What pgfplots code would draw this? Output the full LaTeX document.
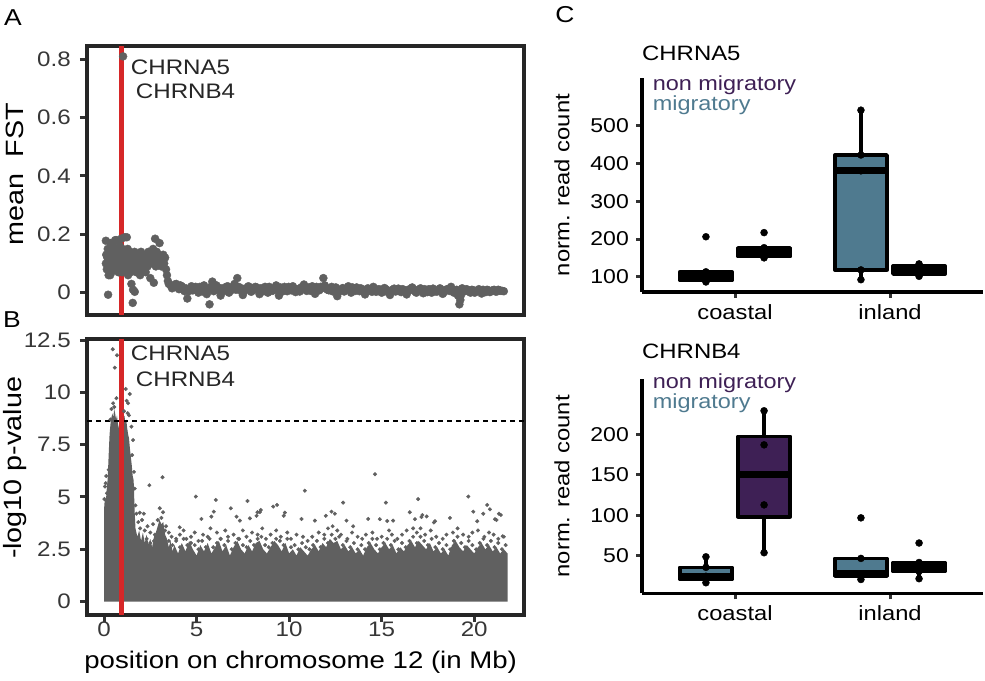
\documentclass[border=0pt]{standalone}
\usepackage{fontspec}
\setmainfont{Liberation Sans}[FakeStretch=1.15]
\usepackage{pgfplots}
\pgfplotsset{compat=1.18}
\usepgfplotslibrary{statistics}
\newcommand\fs[1]{\fontsize{#1pt}{#1pt}\selectfont}
\definecolor{ptgray}{RGB}{96,96,96}
\definecolor{framec}{RGB}{38,38,38}
\definecolor{tickc}{RGB}{51,51,51}
\definecolor{tlab}{RGB}{55,55,55}
\definecolor{redl}{RGB}{214,39,40}
\definecolor{purp}{RGB}{62,32,85}
\definecolor{tealc}{RGB}{79,122,143}
\pgfplotsset{
  manh/.style={
    scale only axis, width=437pt,
    xmin=-0.92, xmax=22.69,
    tick align=outside, major tick length=7pt, tick pos=left,
    every tick/.style={tickc, line width=3pt},
    axis line style={framec, line width=3.5pt},
    /pgf/number format/assume math mode=true,
    yticklabel style={font=\fs{21}, text=tlab, anchor=east, inner sep=0pt, xshift=-9pt},
    xticklabel style={font=\fs{21}, text=tlab, anchor=north, inner sep=0pt, yshift=0pt},
    ylabel style={font=\fs{25}, anchor=center},
    xlabel style={font=\fs{24}, anchor=center},
  },
  boxc/.style={
    scale only axis, width=341pt, height=214pt,
    xmin=0.4, xmax=2.6, clip=false,
    axis x line*=bottom, axis y line*=left,
    axis line style={black, line width=3.5pt, -},
    xtick={1,2}, xticklabels={coastal,inland},
    tick align=outside, major tick length=6pt,
    every tick/.style={tickc, line width=3pt},
    /pgf/number format/assume math mode=true,
    yticklabel style={font=\fs{20}, text=black, anchor=east, inner sep=0pt, xshift=-7pt},
    xticklabel style={font=\fs{20.6}, text=black, anchor=north, inner sep=0pt, yshift=-6pt},
    ylabel={norm. read count},
    ylabel style={font=\fs{20.7}, anchor=center, at={(axis description cs:-0.2346,0.5)}},
    boxplot/draw direction=y,
    boxplot/every median/.style={line width=7pt},
  },
  bx/.style={draw=black, line width=3.5pt, line join=round, fill=#1},
  dots/.style={only marks, mark=*, mark size=3.5pt, black, mark options={draw=black, fill=black}},
  fstpts/.style={only marks, mark=*, mark size=4pt, ptgray, mark options={draw=ptgray, fill=ptgray}},
}
\begin{document}
\begin{tikzpicture}[x=1pt,y=1pt]
\useasboundingbox (0,0) rectangle (985,680);
\node[font=\fs{23}] at (13,662) {A};
\node[font=\fs{23}] at (12,360) {B};
\node[font=\fs{23}] at (565,665) {C};

% ---------------- Panel A ----------------
\begin{axis}[manh, at={(87pt,365pt)}, anchor=south west, height=269pt,
  ymin=-0.0765, ymax=0.8456, xtick=\empty,
  ytick={0,0.2,0.4,0.6,0.8}, yticklabels={0,0.2,0.4,0.6,0.8},
  ylabel={mean\ \ FST}, ylabel style={at={(axis description cs:-0.165,0.524)}}]
\addplot[fstpts] table {
x y
0.10 0.178
0.10 0.10
0.12 0.13
0.15 0.08
0.18 0.12
0.20 0.15
0.22 -0.007
0.25 0.06
0.27 0.11
0.30 0.14
0.33 0.06
0.32 0.09
0.35 0.17
0.38 0.12
0.40 0.07
0.42 0.15
0.45 0.10
0.48 0.13
0.50 0.16
0.52 0.09
0.55 0.14
0.58 0.11
0.60 0.18
0.62 0.08
0.65 0.13
0.68 0.18
0.70 0.10
0.72 0.15
0.75 0.12
0.78 0.07
0.80 0.14
0.83 0.11
0.85 0.16
0.88 0.09
0.90 0.13
0.93 0.185
0.95 0.10
0.98 0.07
1.00 0.15
1.03 0.81
1.05 0.12
1.08 0.09
1.10 0.14
1.12 0.19
1.15 0.11
1.18 0.08
1.20 0.13
1.23 0.19
1.25 0.10
1.28 0.15
1.30 0.06
1.33 0.12
1.35 0.09
1.38 0.14
1.40 0.11
1.43 0.07
1.45 0.13
1.48 0.03
1.50 0.10
1.55 -0.035
1.57 0.01
1.58 0.12
1.60 0.08
1.66 0.003
1.65 0.14
1.70 0.11
1.75 0.07
1.80 0.13
1.85 0.09
1.90 0.12
1.95 0.06
2.00 0.14
2.05 0.10
2.10 0.08
2.15 0.13
2.20 0.11
2.25 0.07
2.30 0.12
2.35 0.09
2.40 0.14
2.45 0.11
2.50 0.05
2.55 0.13
2.60 0.10
2.65 0.15
2.69 0.034
2.70 0.12
2.76 0.185
2.80 0.09
2.85 0.14
2.90 0.11
2.95 0.13
3.00 0.17
3.05 0.12
3.10 0.09
3.15 0.11
3.20 0.13
3.25 0.10
3.30 0.12
3.35 0.08
3.40 0.06
3.45 0.04
3.50 0.03
3.60 0.025
3.75 0.02
3.90 0.03
4.05 0.012
4.20 0.022
4.35 0.005
4.50 -0.02
4.65 0.015
4.80 0.008
4.95 0.02
5.10 0.0
5.25 0.012
5.40 0.025
5.55 -0.005
5.70 -0.04
5.85 0.038
6.00 0.01
6.15 0.018
6.30 -0.01
6.45 0.005
6.60 0.02
6.75 0.0
6.90 0.012
7.05 0.03
7.20 0.05
7.35 0.008
7.50 -0.008
7.65 0.015
7.80 0.022
7.95 0.003
8.10 0.01
8.25 0.018
8.40 -0.005
8.55 0.012
8.70 0.02
8.85 0.0
9.00 0.015
9.15 0.008
9.30 0.025
9.45 -0.01
9.60 0.012
9.75 0.02
9.90 0.005
10.05 0.015
10.20 0.022
10.35 0.002
10.50 0.01
10.65 0.018
10.80 0.028
10.95 0.006
11.10 0.014
11.25 0.022
11.40 -0.004
11.55 0.01
11.70 0.02
11.85 0.05
12.00 0.015
12.15 0.008
12.30 0.02
12.45 0.012
12.60 -0.012
12.75 0.006
12.90 0.016
13.05 0.01
13.20 0.022
13.35 0.0
13.50 0.012
13.65 0.018
13.80 0.005
13.95 0.01
14.10 -0.006
14.25 0.015
14.40 0.008
14.55 0.02
14.70 0.003
14.85 0.012
15.00 0.0
15.15 0.016
15.30 0.008
15.45 -0.008
15.60 0.01
15.75 0.004
15.90 0.014
16.05 0.002
16.20 0.01
16.35 -0.006
16.50 0.012
16.65 0.018
16.80 0.004
16.95 0.008
17.10 0.015
17.25 -0.002
17.40 0.006
17.55 0.012
17.70 0.0
17.85 0.01
18.00 0.004
18.15 0.015
18.30 -0.004
18.45 0.008
18.60 0.012
18.75 0.02
18.90 0.0
19.05 0.01
19.20 -0.04
19.25 -0.025
19.35 0.015
19.50 0.005
19.65 0.01
19.80 0.0
19.95 0.008
20.10 0.004
20.25 0.012
20.40 -0.003
20.55 0.006
20.70 0.01
20.85 0.002
21.00 0.008
21.15 0.004
21.30 0.01
21.45 0.006
21.60 0.005
};
\addplot[fstpts] table {
x y
3.675 0.015
3.825 0.028
3.975 0.018
4.125 0.025
4.275 0.01
4.425 0.015
4.575 0.005
4.725 0.022
4.875 0.012
5.025 0.008
5.175 0.02
5.325 0.004
5.475 0.015
5.625 0.01
5.775 0.02
5.925 0.005
6.075 0.025
6.225 0.008
6.375 0.015
6.525 0.012
6.675 0.022
6.825 0.006
6.975 0.018
7.125 0.01
7.275 0.02
7.425 0.015
7.575 0.005
7.725 0.012
7.875 0.018
8.025 0.008
8.175 0.02
8.325 0.01
8.475 0.015
8.625 0.005
8.775 0.012
8.925 0.02
9.075 0.006
9.225 0.015
9.375 0.01
9.525 0.018
9.675 0.005
9.825 0.012
9.975 0.02
10.125 0.008
10.275 0.015
10.425 0.012
10.575 0.004
10.725 0.02
10.875 0.012
11.025 0.018
11.175 0.006
11.325 0.012
11.475 0.02
11.625 0.008
11.775 0.015
11.925 0.025
12.075 0.01
12.225 0.015
12.375 0.004
12.525 0.018
12.675 0.008
12.825 0.012
12.975 0.004
13.125 0.015
13.275 0.01
13.425 0.018
13.575 0.006
13.725 0.012
13.875 0.015
14.025 0.004
14.175 0.01
14.325 0.012
14.475 0.003
14.625 0.014
14.775 0.008
14.925 0.01
15.075 0.004
15.225 0.012
15.375 0.0
15.525 0.008
15.675 0.014
15.825 0.006
15.975 0.008
16.125 0.012
16.275 0.004
16.425 0.006
16.575 0.01
16.725 0.012
16.875 0.0
17.025 0.01
17.175 0.006
17.325 0.012
17.475 0.002
17.625 0.008
17.775 0.014
17.925 0.004
18.075 0.006
18.225 0.01
18.375 0.002
18.525 0.012
18.675 0.006
18.825 0.01
18.975 0.004
19.125 -0.01
19.275 -0.01
19.425 0.008
19.575 0.012
19.725 0.004
19.875 0.01
20.025 0.0
20.175 0.008
20.325 0.006
20.475 0.01
20.625 0.002
20.775 0.008
20.925 0.006
21.075 0.01
21.225 0.004
21.375 0.008
21.525 0.006
};
\addplot[redl, line width=4.5pt] coordinates {(0.94,-0.0765) (0.94,0.8456)};
\node[anchor=west, inner sep=0pt, font=\fs{21}, text=framec] at (axis cs:1.44,0.774) {CHRNA5};
\node[anchor=west, inner sep=0pt, font=\fs{21}, text=framec] at (axis cs:1.71,0.692) {CHRNB4};
\end{axis}

% ---------------- Panel B ----------------
\begin{axis}[manh, at={(87pt,65pt)}, anchor=south west, height=276pt,
  ymin=-0.64, ymax=12.55,
  xtick={0,5,10,15,20}, xticklabels={0,5,10,15,20},
  ytick={0,2.5,5,7.5,10,12.5}, yticklabels={0,2.5,5,7.5,10,12.5},
  ylabel={-log10 p-value}, ylabel style={at={(axis description cs:-0.165,0.533)}},
  xlabel={position on chromosome 12 (in Mb)}, xlabel style={at={(axis description cs:0.489,-0.170)}}]
\addplot[fill=ptgray, draw=none] coordinates {
(0,0) (0,4.4) (0.05,5.0) (0.1,4.8) (0.15,5.4) (0.2,5.9) (0.25,7.0) (0.3,8.0) (0.35,8.5)
(0.4,8.8) (0.45,9.0) (0.5,8.8) (0.55,9.2) (0.6,9.0) (0.65,8.7) (0.7,8.9) (0.75,8.5)
(0.8,8.3) (0.85,8.0) (0.9,7.8) (0.95,7.9) (1.0,8.2) (1.05,8.7) (1.1,8.9) (1.15,8.6)
(1.2,8.7) (1.25,8.3) (1.3,8.0) (1.35,7.8) (1.4,7.3) (1.45,6.9) (1.5,6.5) (1.55,6.0)
(1.6,5.8) (1.63,5.0) (1.66,4.2) (1.7,3.5) (1.8,3.1) (1.9,3.4) (2.0,2.9) (2.1,3.3)
(2.2,2.8) (2.3,3.2) (2.4,2.7) (2.5,3.0) (2.6,2.6) (2.7,3.1) (2.8,3.3) (2.9,3.6)
(3.0,3.9) (3.1,3.7) (3.2,3.8) (3.3,3.2) (3.4,3.0) (3.5,2.6) (3.6,2.9) (3.7,2.4)
(3.8,2.7) (4.0,2.3) (4.2,2.8) (4.4,2.4) (4.6,2.9) (4.8,2.5) (5.0,2.2) (5.2,2.7)
(5.4,2.4) (5.6,2.8) (5.8,2.3) (6.0,2.6) (6.2,2.9) (6.4,2.4) (6.6,2.7) (6.8,2.2)
(7.0,2.6) (7.2,2.9) (7.4,2.5) (7.6,2.3) (7.8,2.7) (8.0,2.4) (8.2,2.8) (8.4,2.9)
(8.6,2.5) (8.8,2.3) (9.0,2.6) (9.2,2.9) (9.4,2.7) (9.6,2.4) (9.8,2.8) (10.0,2.3)
(10.2,2.5) (10.4,2.2) (10.6,2.6) (10.8,2.4) (11.0,2.2) (11.2,2.5) (11.4,2.7) (11.6,2.4)
(11.8,2.8) (12.0,2.6) (12.2,3.0) (12.4,2.8) (12.6,2.9) (12.8,2.5) (13.0,2.7) (13.2,2.4)
(13.4,2.6) (13.6,2.3) (13.8,2.5) (14.0,2.2) (14.2,2.6) (14.4,2.8) (14.6,2.5) (14.8,2.3)
(15.0,2.6) (15.2,2.8) (15.4,2.5) (15.6,2.7) (15.8,2.3) (16.0,2.6) (16.2,2.4) (16.4,2.7)
(16.6,2.9) (16.8,2.6) (17.0,2.9) (17.2,2.7) (17.4,2.5) (17.6,2.8) (17.8,2.4) (18.0,2.6)
(18.2,2.3) (18.4,2.5) (18.6,2.2) (18.8,2.7) (19.0,2.9) (19.2,2.6) (19.4,2.4) (19.6,2.7)
(19.8,2.5) (20.0,2.3) (20.2,2.6) (20.4,2.8) (20.6,2.5) (20.8,2.7) (21.0,2.4) (21.2,2.6)
(21.4,2.3) (21.6,2.5) (21.8,2.3) (21.8,0)
} -- cycle;
\addplot[only marks, mark=*, mark size=1.8pt, ptgray, mark options={draw=none, fill=ptgray}] coordinates {
(0.47,12.06) (0.70,11.77) (0.58,11.18) (1.17,10.16) (1.39,9.92) (0.67,9.72) (0.49,9.48)
(1.30,9.48) (1.22,9.60) (0.55,9.30) (1.48,8.36) (1.57,7.72) (0.09,5.66) (0.16,5.18)
(0.05,5.50) (0.02,4.90) (0.25,6.30) (1.62,6.20) (1.66,5.40) (1.70,4.60) (1.75,4.20)
(0.40,9.20) (1.08,9.10) (1.28,9.00) (1.35,8.90) (0.12,6.0) (0.35,8.7) (1.52,7.0)
(14.64,6.09) (3.16,5.94) (10.85,5.30) (2.45,5.56) (4.96,5.02) (6.04,4.86) (7.75,4.81)
(16.97,4.90) (19.68,5.02) (15.23,4.73) (12.92,4.73) (20.70,4.62) (20.85,4.41) (9.35,4.62)
(9.14,4.54) (6.85,4.46) (19.95,4.30) (16.52,4.27) (17.20,4.14) (21.34,4.20) (21.20,3.90)
(12.29,4.30) (12.47,4.20) (8.29,4.27) (8.47,4.38) (9.77,4.25) (10.67,3.95) (13.10,3.87)
(14.27,3.95) (18.69,4.00) (17.88,3.84) (11.39,3.87) (5.26,3.95) (2.15,4.20) (1.93,4.25)
(3.01,4.46) (3.19,4.27) (4.09,3.55) (7.34,3.87) (15.62,3.87) (5.93,4.30) (5.80,4.06)
(7.16,4.06) (7.88,3.98) (8.42,4.28) (8.24,4.10) (9.71,4.10) (11.98,4.10) (14.90,3.94)
(15.30,3.85) (16.80,3.94) (17.15,4.04) (17.43,4.07) (17.82,3.78) (20.49,4.20) (20.16,3.84)
(21.12,3.94) (21.44,4.14) (21.54,3.12) (13.46,3.60)
(1.85,3.8) (1.95,3.5) (2.05,3.9) (2.2,3.4) (2.35,3.6) (2.5,3.3) (2.65,3.7) (2.75,3.2)
(3.35,3.6) (3.5,3.3) (3.65,3.1) (3.9,3.0) (4.1,3.2) (4.3,3.4) (4.45,3.0) (4.7,3.1)
(4.9,3.3) (5.1,2.9) (5.35,3.2) (5.6,3.1) (5.75,3.5) (6.1,3.3) (6.3,3.0) (6.55,3.4)
(6.7,3.1) (7.0,3.2) (7.25,3.0) (7.5,3.4) (7.7,3.1) (8.0,3.3) (8.3,3.2) (8.55,3.5)
(8.75,3.0) (9.0,3.2) (9.3,3.4) (9.55,3.1) (9.9,3.3) (10.1,3.0) (10.4,3.2) (10.75,3.1)
(11.0,2.9) (11.25,3.1) (11.6,3.3) (11.9,3.2) (12.1,3.5) (12.35,3.6) (12.6,3.4) (12.8,3.2)
(13.15,3.0) (13.4,3.3) (13.7,3.1) (13.95,3.0) (14.15,3.2) (14.5,3.3) (14.75,3.0) (15.0,3.1)
(15.4,3.4) (15.55,3.2) (15.85,3.0) (16.1,3.2) (16.35,3.4) (16.7,3.5) (16.9,3.3) (17.1,3.5)
(17.35,3.2) (17.65,3.4) (17.95,3.1) (18.3,3.0) (18.5,3.2) (18.85,3.3) (19.1,3.5) (19.4,3.2)
(19.7,3.1) (19.9,3.3) (20.2,3.4) (20.55,3.1) (20.8,3.3) (21.05,3.2) (21.3,3.0) (21.6,3.1)
(1.9,2.9) (2.1,2.7) (2.3,3.0) (2.5,2.8) (2.7,2.9) (2.9,3.9) (3.1,4.0) (3.3,3.4) (3.5,2.9)
(3.7,2.7) (3.9,2.9) (4.1,2.6) (4.3,3.0) (4.5,2.7) (4.7,2.8) (4.9,2.7) (5.1,2.5) (5.3,2.9)
(5.5,2.6) (5.7,3.0) (5.9,2.6) (6.1,2.8) (6.3,3.0) (6.5,2.7) (6.7,2.9) (6.9,2.5) (7.1,2.8)
(7.3,3.0) (7.5,2.7) (7.7,2.6) (7.9,2.9) (8.1,2.7) (8.3,3.0) (8.5,3.1) (8.7,2.7) (8.9,2.6)
(9.1,2.8) (9.3,3.0) (9.5,2.9) (9.7,2.7) (9.9,3.0) (10.1,2.6) (10.3,2.7) (10.5,2.5) (10.7,2.8)
(10.9,2.6) (11.1,2.5) (11.3,2.7) (11.5,2.9) (11.7,2.6) (11.9,3.0) (12.1,2.8) (12.3,3.2)
(12.5,3.0) (12.7,3.1) (12.9,2.7) (13.1,2.9) (13.3,2.6) (13.5,2.8) (13.7,2.5) (13.9,2.7)
(14.1,2.5) (14.3,2.8) (14.5,3.0) (14.7,2.7) (14.9,2.5) (15.1,2.8) (15.3,3.0) (15.5,2.7)
(15.7,2.9) (15.9,2.5) (16.1,2.8) (16.3,2.6) (16.5,2.9) (16.7,3.1) (16.9,2.8) (17.1,3.1)
(17.3,2.9) (17.5,2.7) (17.7,3.0) (17.9,2.6) (18.1,2.8) (18.3,2.5) (18.5,2.7) (18.7,2.5)
(18.9,2.9) (19.1,3.1) (19.3,2.8) (19.5,2.6) (19.7,2.9) (19.9,2.7) (20.1,2.5) (20.3,2.8)
(20.5,3.0) (20.7,2.7) (20.9,2.9) (21.1,2.6) (21.3,2.8) (21.5,2.5) (21.7,2.7)
};
\addplot[black, line width=1.3pt, dash pattern=on 5pt off 4pt] coordinates {(-0.92,8.63) (22.69,8.63)};
\addplot[redl, line width=4.5pt] coordinates {(0.94,-0.64) (0.94,12.55)};
\node[anchor=west, inner sep=0pt, font=\fs{21}, text=framec] at (axis cs:1.44,11.88) {CHRNA5};
\node[anchor=west, inner sep=0pt, font=\fs{21}, text=framec] at (axis cs:1.71,10.64) {CHRNB4};
\end{axis}

% ---------------- Panel C top: CHRNA5 ----------------
\begin{axis}[boxc, at={(642pt,388pt)}, anchor=south west,
  ymin=59.4, ymax=627.4, ytick={100,200,300,400,500}, yticklabels={100,200,300,400,500}]
\addplot[bx=tealc, boxplot prepared={draw position=0.8125, lower whisker=86, lower quartile=90, median=100, upper quartile=113, upper whisker=113, box extend=0.337, whisker extend=0}] coordinates {};
\addplot[bx=purp, boxplot prepared={draw position=1.1875, lower whisker=150, lower quartile=153, median=165, upper quartile=177, upper whisker=177, box extend=0.337, whisker extend=0}] coordinates {};
\addplot[bx=tealc, boxplot prepared={draw position=1.8125, lower whisker=92, lower quartile=118, median=381, upper quartile=423, upper whisker=542, box extend=0.337, whisker extend=0}] coordinates {};
\addplot[bx=purp, boxplot prepared={draw position=2.1875, lower whisker=101, lower quartile=107, median=118, upper quartile=128, upper whisker=134, box extend=0.337, whisker extend=0}] coordinates {};
\addplot[dots] coordinates {(0.8125,86) (0.8125,90) (0.8125,100) (0.8125,113) (0.8125,206)
 (1.1875,150) (1.1875,153) (1.1875,165) (1.1875,177) (1.1875,217)
 (1.8125,92) (1.8125,118) (1.8125,381) (1.8125,423) (1.8125,542)
 (2.1875,101) (2.1875,107) (2.1875,118) (2.1875,128) (2.1875,134)};
\node[anchor=west, inner sep=0pt, font=\fs{20.8}] at (rel axis cs:0,1.117) {CHRNA5};
\node[anchor=west, inner sep=0pt, font=\fs{20.4}, text=purp] at (rel axis cs:0.031,0.967) {non migratory};
\node[anchor=west, inner sep=0pt, font=\fs{20.4}, text=tealc] at (rel axis cs:0.031,0.874) {migratory};
\end{axis}

% ---------------- Panel C bottom: CHRNB4 ----------------
\begin{axis}[boxc, at={(642pt,86.7pt)}, anchor=south west,
  ymin=4.0, ymax=267.8, ytick={50,100,150,200}, yticklabels={50,100,150,200}]
\addplot[bx=tealc, boxplot prepared={draw position=0.8125, lower whisker=17, lower quartile=21, median=25, upper quartile=36, upper whisker=49, box extend=0.337, whisker extend=0}] coordinates {};
\addplot[bx=purp, boxplot prepared={draw position=1.1875, lower whisker=54, lower quartile=98.25, median=150, upper quartile=197.5, upper whisker=229, box extend=0.337, whisker extend=0}] coordinates {};
\addplot[bx=tealc, boxplot prepared={draw position=1.8125, lower whisker=21, lower quartile=25, median=28, upper quartile=47, upper whisker=47, box extend=0.337, whisker extend=0}] coordinates {};
\addplot[bx=purp, boxplot prepared={draw position=2.1875, lower whisker=22, lower quartile=31, median=36, upper quartile=42, upper whisker=42, box extend=0.337, whisker extend=0}] coordinates {};
\addplot[dots] coordinates {(0.8125,17) (0.8125,21) (0.8125,25) (0.8125,36) (0.8125,49)
 (1.1875,54) (1.1875,113) (1.1875,187) (1.1875,229)
 (1.8125,21) (1.8125,25) (1.8125,28) (1.8125,47) (1.8125,97)
 (2.1875,22) (2.1875,31) (2.1875,36) (2.1875,42) (2.1875,66)};
\node[anchor=west, inner sep=0pt, font=\fs{20.8}] at (rel axis cs:0,1.129) {CHRNB4};
\node[anchor=west, inner sep=0pt, font=\fs{20.4}, text=purp] at (rel axis cs:0.031,0.981) {non migratory};
\node[anchor=west, inner sep=0pt, font=\fs{20.4}, text=tealc] at (rel axis cs:0.031,0.888) {migratory};
\end{axis}
\end{tikzpicture}
\end{document}
